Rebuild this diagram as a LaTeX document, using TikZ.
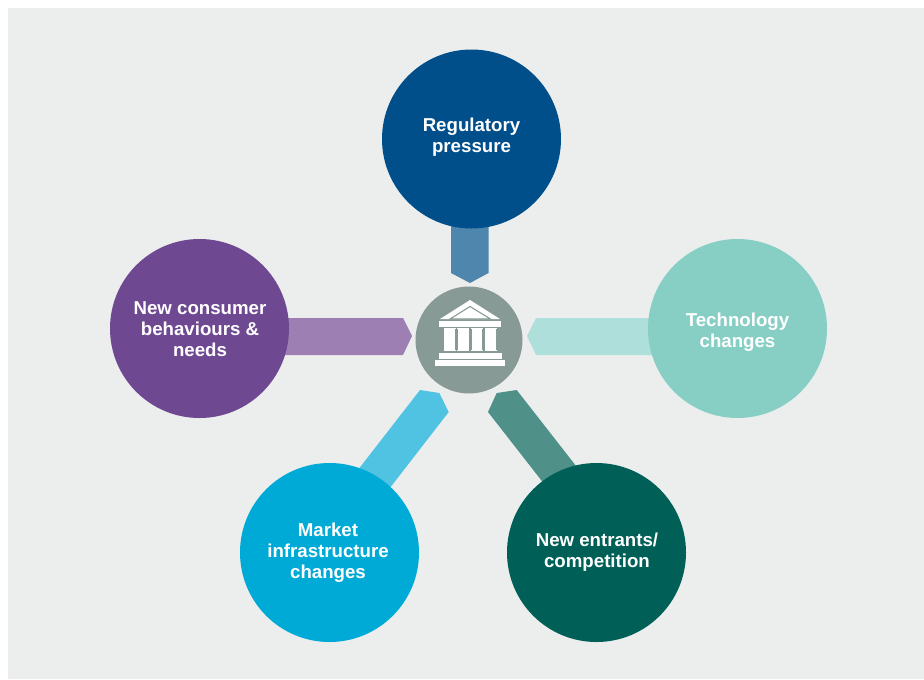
\documentclass[tikz,border=0pt]{standalone}
\usepackage{fontspec}
\setmainfont{Liberation Sans}
\usetikzlibrary{backgrounds}
\definecolor{panel}{HTML}{ECEEEE}
\definecolor{cReg}{HTML}{004F8A}
\definecolor{bReg}{HTML}{4E86AE}
\definecolor{cTech}{HTML}{87CFC4}
\definecolor{bTech}{HTML}{AFDFDA}
\definecolor{cNew}{HTML}{005F56}
\definecolor{bNew}{HTML}{4F9189}
\definecolor{cMkt}{HTML}{00AAD6}
\definecolor{bMkt}{HTML}{4FC3E1}
\definecolor{cCon}{HTML}{6F4892}
\definecolor{bCon}{HTML}{9E7FB3}
\definecolor{hub}{HTML}{879A96}
\tikzset{
  bigcircle/.style={circle,draw=none,inner sep=0pt,minimum size=134.25pt},
  hubcircle/.style={circle,draw=none,fill=hub,inner sep=0pt,minimum size=80.25pt},
  caption/.style={text=white,align=center,inner sep=0pt,font=\fontsize{14}{15.75}\selectfont\bfseries},
  band/.style={draw=none},
  icon/.style={draw=none,fill=white},
}
\begin{document}
\begin{tikzpicture}[x=0.75pt,y=-0.75pt]
\useasboundingbox (0,0) rectangle (924,679);
% circles
\node[bigcircle,fill=cReg] (reg) at (471.5,139) {};
\node[bigcircle,fill=cTech] (tech) at (737.5,328.5) {};
\node[bigcircle,fill=cNew] (new) at (596.5,552.5) {};
\node[bigcircle,fill=cMkt] (mkt) at (329.5,552.5) {};
\node[bigcircle,fill=cCon] (con) at (199.5,328.5) {};
\node[hubcircle] (hub) at (469,340) {};
% panel and connector bands, behind the circles
\begin{pgfonlayer}{background}
\fill[white] (0,0) rectangle (924,679);
\fill[panel] (8,8) rectangle (924,679);
\fill[band,bReg] (451,200) -- (488.5,200) -- (488.5,273) -- (470,283) -- (451,273) -- cycle;
\fill[band,bTech] (700,318) -- (536,318) -- (527,336) -- (536,355) -- (700,355) -- cycle;
\fill[band,bCon] (240,318) -- (403,318) -- (412,336) -- (403,355) -- (240,355) -- cycle;
\fill[band,bMkt] (420,390) -- (439.3,393) -- (448.7,412) -- (379,502) -- (347,484) -- cycle;
\fill[band,bNew] (516.7,390) -- (496.7,393) -- (488,412) -- (552,494) -- (587,480) -- cycle;
\end{pgfonlayer}
% captions
\node[caption] (t1) at (471.5,137) {Regulatory\\pressure};
\node[caption] (t2) at (737.5,332) {Technology\\changes};
\node[caption] (t3) at (597,552) {New entrants/\\competition};
\node[caption] (t4) at (328,552.5) {Market\\infrastructure\\changes};
\node[caption] (t5) at (200,329.2) {New consumer\\behaviours \&\\needs};
% bank icon
\fill[icon] (470,300) -- (500,319) -- (440,319) -- cycle;
\draw[hub,line width=0.8pt,fill=white] (470,306.5) -- (490.5,319) -- (450,319) -- cycle;
\fill[icon] (439,321) rectangle (501.3,327);
\foreach \cx in {444.3,458,471.7,485.3}{
  \fill[icon] (\cx,328.5) rectangle ++(10.7,22);
  \fill[icon] (\cx-0.7,328) rectangle ++(12.1,1.2);
  \fill[icon] (\cx-0.7,349.8) rectangle ++(12.1,1.2);
}
\fill[icon] (439,353) rectangle (502,359);
\fill[icon] (435,360) rectangle (505.3,366);
\end{tikzpicture}
\end{document}
